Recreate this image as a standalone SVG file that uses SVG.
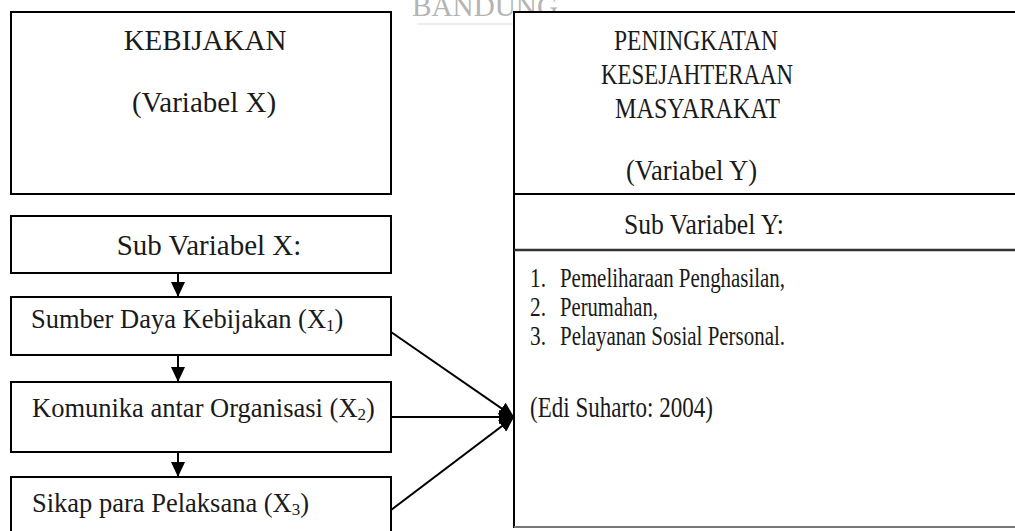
<svg xmlns="http://www.w3.org/2000/svg" width="1015" height="531" viewBox="0 0 1015 531">
<style>
.box{fill:#fff;stroke:#000;stroke-width:2}
.t{font-family:"Liberation Serif","Times New Roman",serif;fill:#1a1a1a}
.h{font-size:29px}
.s{font-size:26.5px}
.sub{font-size:17px}
.ln{stroke:#000;stroke-width:2;fill:none}
</style>
<defs>
<marker id="ah" markerWidth="16" markerHeight="14" refX="15" refY="7" orient="auto" markerUnits="userSpaceOnUse">
<path d="M0,0 L15,7 L0,14 Z" fill="#000"/>
</marker>
</defs>
<rect width="1015" height="531" fill="#fff"/>
<text class="t" x="412" y="16" textLength="146" lengthAdjust="spacingAndGlyphs" style="font-size:29px;fill:#b4b4b4">BANDUNG</text>
<rect x="417" y="23" width="120" height="2" fill="#ededed"/>

<g id="kebijakan">
<rect class="box" x="11" y="12" width="380" height="182"/>
<text class="t h" x="205" y="50" text-anchor="middle">KEBIJAKAN</text>
<text class="t h" x="204" y="112" text-anchor="middle">(Variabel X)</text>
</g>
<g id="subx">
<rect class="box" x="11" y="216" width="380" height="57"/>
<text class="t h" x="209" y="255" text-anchor="middle">Sub Variabel X:</text>
</g>
<g id="x1">
<rect class="box" x="11" y="297" width="380" height="58"/>
<text class="t s" x="31" y="328">Sumber Daya Kebijakan (X<tspan class="sub" dy="3">1</tspan><tspan dy="-3">)</tspan></text>
</g>
<g id="x2">
<rect class="box" x="11" y="382" width="380" height="70"/>
<text class="t s" x="32" y="417">Komunika antar Organisasi (X<tspan class="sub" dy="3">2</tspan><tspan dy="-3">)</tspan></text>
</g>
<g id="x3">
<rect class="box" x="11" y="477" width="380" height="64"/>
<text class="t s" x="32" y="512">Sikap para Pelaksana (X<tspan class="sub" dy="3">3</tspan><tspan dy="-3">)</tspan></text>
</g>
<g id="variabel-y">
<rect class="box" x="514" y="12" width="520" height="515"/>
<line x1="514" y1="527" x2="1015" y2="527" stroke="#777" stroke-width="2"/>
<line class="ln" x1="514" y1="194" x2="1015" y2="194"/>
<line x1="514" y1="250" x2="1015" y2="250" stroke="#333" stroke-width="2.5"/>
<text class="t h" x="614" y="50" textLength="164" lengthAdjust="spacingAndGlyphs">PENINGKATAN</text>
<text class="t h" x="601" y="84" textLength="192" lengthAdjust="spacingAndGlyphs">KESEJAHTERAAN</text>
<text class="t h" x="615" y="118" textLength="165" lengthAdjust="spacingAndGlyphs">MASYARAKAT</text>
<text class="t h" x="626" y="180" textLength="131" lengthAdjust="spacingAndGlyphs">(Variabel Y)</text>
<text class="t h" x="624" y="234" textLength="160" lengthAdjust="spacingAndGlyphs">Sub Variabel Y:</text>
<text class="t s" x="530" y="287" textLength="16" lengthAdjust="spacingAndGlyphs">1.</text><text class="t s" x="560" y="287" textLength="225" lengthAdjust="spacingAndGlyphs">Pemeliharaan Penghasilan,</text>
<text class="t s" x="530" y="316" textLength="16" lengthAdjust="spacingAndGlyphs">2.</text><text class="t s" x="560" y="316" textLength="98" lengthAdjust="spacingAndGlyphs">Perumahan,</text>
<text class="t s" x="530" y="345" textLength="16" lengthAdjust="spacingAndGlyphs">3.</text><text class="t s" x="560" y="345" textLength="225" lengthAdjust="spacingAndGlyphs">Pelayanan Sosial Personal.</text>
<text class="t h" x="530" y="417" textLength="183" lengthAdjust="spacingAndGlyphs">(Edi Suharto: 2004)</text>
</g>
<g id="connectors">
<line class="ln" x1="178" y1="273" x2="178" y2="297" marker-end="url(#ah)"/>
<line class="ln" x1="178" y1="355" x2="178" y2="382" marker-end="url(#ah)"/>
<line class="ln" x1="178" y1="452" x2="178" y2="477" marker-end="url(#ah)"/>
<line class="ln" x1="391" y1="332" x2="514" y2="417" marker-end="url(#ah)"/>
<line class="ln" x1="391" y1="417" x2="514" y2="417" marker-end="url(#ah)"/>
<line class="ln" x1="391" y1="510" x2="514" y2="417" marker-end="url(#ah)"/>
</g>
</svg>
